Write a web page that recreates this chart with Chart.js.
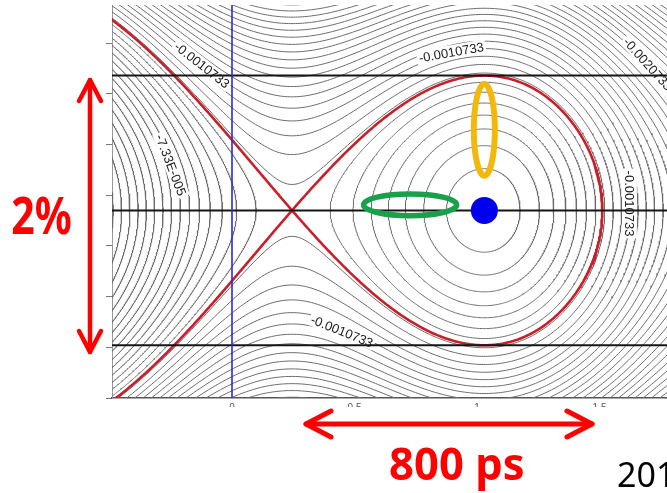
<!DOCTYPE html>
<html><head><meta charset="utf-8">
<script src="https://cdn.jsdelivr.net/npm/chart.js@4/dist/chart.umd.min.js"></script>
<style>html,body{margin:0;padding:0;background:#fff;overflow:hidden;width:667px;height:493px}canvas{display:block}</style>
</head><body><canvas id="c" width="700" height="493"></canvas>
<script>
// ---------- values ----------
const xTicks = [0, 0.5, 1, 1.5];
const yTicks = [0, 1, 2, 3, 4, 5, 6, 7];
const stablePoint = [1.03, 3.70];      // blue dot, bucket centre
const unstablePoint = [0.245, 3.70];   // crossing of the red separatrix
const bucketHalfHeight = [2.66];
const syncPhase = [0.35];              // sets bucket asymmetry (right edge ~1.51)
const contourLevels = [-1.02, -0.88, -0.74, -0.60, -0.46, -0.32, -0.18, -0.04,
  0.10, 0.24, 0.38, 0.52, 0.66, 0.80, 0.94, 1.08, 1.22, 1.36, 1.50, 1.64, 1.78,
  1.92, 2.06, 2.20, 2.34, 2.48, 2.62, 2.76, 2.90, 3.04, 3.18, 3.32, 3.46, 3.60,
  3.74, 3.88, 4.02, 4.16, 4.30, 4.44, 4.58, 4.72, 4.86, 5.00];
const bucketLines = [6.36, 3.70, 1.04];
const markerLineX = [0];
const greenEllipse = [0.727, 3.81, 0.19, 0.215];   // cx, cy, rx, ry
const yellowEllipse = [1.03, 5.29, 0.043, 0.905];
const labelTexts = ['-0.0010733', '-7.33E-005', '-0.0010733', '-0.0020733', '-0.0010733', '-0.0010733'];
const labelX = [-0.122, -0.249, 0.895, 1.698, 1.624, 0.449];
const labelY = [6.568, 4.596, 6.82, 6.588, 3.836, 1.321];
const labelAngle = [38, 69, -10, 48, 90, 22];

// pixel calibration of the axes (x = 0 at px 232, 245 px per unit; y = 0 at px 398, 50.7 px per unit)
const X0_PX = 232, X_UNIT = 245, Y0_PX = 398, Y_UNIT = 50.7;
const X_MIN = -0.52, X_MAX = 1.95, Y_MIN = 0, Y_MAX = 7.95;

// ---------- contour geometry of the bucket Hamiltonian ----------
const al = syncPhase[0];
const xs = stablePoint[0], yc = stablePoint[1], xu = unstablePoint[0], hh = bucketHalfHeight[0];
const kk = (Math.PI - 2 * al) / (xs - xu);
const Wpsi = p => -Math.cos(p) - p * Math.sin(al);
const Wmin = Wpsi(al);
const D = Wpsi(Math.PI - al) - Wmin;
const w = x => Wpsi(al + kk * (xs - x)) - Wmin;

function bisect(x0, x1, h) {
  let f0 = h - w(x0);
  for (let i = 0; i < 60; i++) {
    const m = (x0 + x1) / 2, fm = h - w(m);
    if ((fm >= 0) === (f0 >= 0)) { x0 = m; f0 = fm; } else x1 = m;
  }
  return (x0 + x1) / 2;
}
function intervals(h) {
  const N = 2400, out = [];
  let prevX = X_MIN, inside = (h - w(X_MIN)) >= 0, start = inside ? { x: X_MIN, root: false } : null;
  for (let i = 1; i <= N; i++) {
    const x = X_MIN + (X_MAX - X_MIN) * i / N, f = h - w(x);
    if (inside && f < 0) { out.push([start, { x: bisect(prevX, x, h), root: true }]); inside = false; }
    else if (!inside && f >= 0) { start = { x: bisect(prevX, x, h), root: true }; inside = true; }
    prevX = x;
  }
  if (inside) out.push([start, { x: X_MAX, root: false }]);
  return out;
}
function branch(h, a0, b0, ra, rb, sign, n) {
  const pts = [];
  for (let i = 0; i <= n; i++) {
    const t = i / n;
    let g;
    if (ra && rb) g = (1 - Math.cos(Math.PI * t)) / 2;
    else if (ra) g = 1 - Math.cos(Math.PI * t / 2);
    else if (rb) g = Math.sin(Math.PI * t / 2);
    else g = t;
    const x = a0 + (b0 - a0) * g;
    const u = Math.sqrt(Math.max(0, (h - w(x)) / D));
    pts.push({ x: x, y: yc + sign * hh * u });
  }
  return pts;
}
function contourPaths(h) {
  const paths = [];
  for (const [s, e] of intervals(h)) {
    const up = branch(h, s.x, e.x, s.root, e.root, 1, 260);
    const lo = branch(h, s.x, e.x, s.root, e.root, -1, 260).reverse();
    paths.push(up.concat(lo));
  }
  return paths;
}
function separatrix() {
  const h = D;
  const r = bisect(xs, X_MAX, h);
  const up = branch(h, X_MIN, xu, false, false, 1, 200).concat(branch(h, xu, r, false, true, 1, 260));
  const lo = branch(h, X_MIN, xu, false, false, -1, 200).concat(branch(h, xu, r, false, true, -1, 260)).reverse();
  return up.concat(lo);
}

// ---------- datasets ----------
const lineDs = (data, color, width) => ({ data, showLine: true, pointRadius: 0, borderColor: color, borderWidth: width, fill: false, clip: 0, tension: 0 });
const datasets = [];
datasets.push({ data: [{ x: stablePoint[0], y: stablePoint[1] }], showLine: false, pointRadius: 13.5, pointBackgroundColor: '#0000ee', pointBorderWidth: 0, clip: false });
datasets.push(lineDs(markerLineX.map(v => [{ x: v, y: Y_MIN }, { x: v, y: Y_MAX }]).flat(), '#2b2bcc', 1.6));
bucketLines.forEach(v => datasets.push(lineDs([{ x: X_MIN, y: v }, { x: X_MAX, y: v }], '#151515', 2)));
datasets.push(lineDs(separatrix(), '#c8202a', 2.6));
const firstContour = datasets.length;
contourLevels.forEach(h => contourPaths(h).forEach(p => datasets.push(lineDs(p, '#6c6c6c', 1))));

// ---------- drawing helpers ----------
function drawEllipse(ctx, ch, e, color, lw) {
  const xS = ch.scales.x, yS = ch.scales.y;
  const cx = xS.getPixelForValue(e[0]), cy = yS.getPixelForValue(e[1]);
  const rx = Math.abs(xS.getPixelForValue(e[0] + e[2]) - cx), ry = Math.abs(yS.getPixelForValue(e[1] + e[3]) - cy);
  ctx.save(); ctx.beginPath(); ctx.ellipse(cx, cy, rx, ry, 0, 0, Math.PI * 2);
  ctx.strokeStyle = color; ctx.lineWidth = lw; ctx.stroke(); ctx.restore();
}
function fitText(ctx, text, font, color, left, baseline, inkW) {
  ctx.save(); ctx.font = font; ctx.fillStyle = color; ctx.textAlign = 'left'; ctx.textBaseline = 'alphabetic';
  const m = ctx.measureText(text);
  const nat = m.actualBoundingBoxLeft + m.actualBoundingBoxRight;
  const sx = inkW ? inkW / nat : 1;
  ctx.translate(left, baseline); ctx.scale(sx, 1);
  ctx.fillText(text, m.actualBoundingBoxLeft, 0); ctx.restore();
}
function arrow(ctx, x1, y1, x2, y2, head, spread, lw) {
  ctx.save(); ctx.strokeStyle = '#ff0000'; ctx.lineWidth = lw; ctx.lineCap = 'round'; ctx.lineJoin = 'round';
  ctx.beginPath(); ctx.moveTo(x1, y1); ctx.lineTo(x2, y2); ctx.stroke();
  const ang = Math.atan2(y2 - y1, x2 - x1);
  const tips = [[x1, y1, ang], [x2, y2, ang + Math.PI]];
  for (const [tx, ty, a] of tips) {
    const ux = Math.cos(a), uy = Math.sin(a);
    ctx.beginPath();
    ctx.moveTo(tx + ux * head - uy * spread, ty + uy * head + ux * spread);
    ctx.lineTo(tx, ty);
    ctx.lineTo(tx + ux * head + uy * spread, ty + uy * head - ux * spread);
    ctx.stroke();
  }
  ctx.restore();
}

const overlay = {
  id: 'overlay',
  afterDatasetDraw(ch, args) {
    if (args.index !== firstContour) return;
    const ctx = ch.ctx, a = ch.chartArea;
    ctx.save(); ctx.beginPath(); ctx.rect(a.left, a.top, a.right - a.left, a.bottom - a.top); ctx.clip();
    ctx.font = '13px "Liberation Sans", Arial, sans-serif'; ctx.textAlign = 'center'; ctx.textBaseline = 'middle';
    labelTexts.forEach((t, i) => {
      const px = ch.scales.x.getPixelForValue(labelX[i]), py = ch.scales.y.getPixelForValue(labelY[i]);
      ctx.save(); ctx.translate(px, py); ctx.rotate(labelAngle[i] * Math.PI / 180);
      const tw = ctx.measureText(t).width;
      ctx.fillStyle = '#ffffff'; ctx.fillRect(-tw / 2 - 2, -7, tw + 4, 14);
      ctx.fillStyle = '#1a1a1a'; ctx.fillText(t, 0, 1);
      ctx.restore();
    });
    ctx.restore();
  },
  afterDatasetsDraw(ch) {
    const ctx = ch.ctx;
    drawEllipse(ctx, ch, greenEllipse, '#18a04a', 5.5);
    drawEllipse(ctx, ch, yellowEllipse, '#f3b80c', 6);
  },
  afterDraw(ch) {
    const ctx = ch.ctx;
    ctx.save(); ctx.fillStyle = '#ffffff'; ctx.fillRect(100, 407, 620, 100); ctx.restore();
    arrow(ctx, 90, 80, 90, 352, 21, 11, 4.5);
    arrow(ctx, 306, 424, 592, 424, 25, 13, 5);
    fitText(ctx, '2%', 'bold 52px "Noto Sans", sans-serif', '#ff0000', 12, 234, 59);
    fitText(ctx, '800 ps', 'bold 45px "Noto Sans", sans-serif', '#ff0000', 390, 480, 133);
    fitText(ctx, '201', '34px "Noto Sans", sans-serif', '#000000', 618, 487, 0);
  }
};

const chart = new Chart(document.getElementById('c'), {
  type: 'scatter',
  data: { datasets },
  options: {
    responsive: false, animation: false, devicePixelRatio: 1,
    events: [],
    layout: { autoPadding: false, padding: { left: 106, top: 5, right: 0, bottom: 71 } },
    plugins: { legend: { display: false }, tooltip: { enabled: false } },
    scales: {
      x: {
        type: 'linear', min: -0.49, max: 1.91,
        afterBuildTicks: s => { s.ticks = xTicks.map(v => ({ value: v })); },
        afterFit: s => { s.height = 24; s.paddingLeft = 0; s.paddingRight = 0; },
        ticks: { color: '#555', font: { size: 10, family: '"Liberation Sans", Arial' }, padding: 4, maxRotation: 0, callback: v => String(v) },
        grid: { drawOnChartArea: false, drawTicks: false },
        border: { display: true, color: '#555', width: 1.5 }
      },
      y: {
        type: 'linear', min: 0, max: 7.75,
        afterBuildTicks: s => { s.ticks = yTicks.map(v => ({ value: v })); },
        afterFit: s => { s.width = 6; s.paddingTop = 0; s.paddingBottom = 0; },
        ticks: { display: false },
        grid: { drawOnChartArea: false, drawTicks: true, tickLength: 6, color: '#777' },
        border: { display: true, color: '#999', width: 1 }
      }
    }
  },
  plugins: [overlay]
});
// calibrate the scale ranges to the chart area actually laid out
const ca = chart.chartArea;
chart.options.scales.x.min = (ca.left - X0_PX) / X_UNIT;
chart.options.scales.x.max = (ca.right - X0_PX) / X_UNIT;
chart.options.scales.y.min = (Y0_PX - ca.bottom) / Y_UNIT;
chart.options.scales.y.max = (Y0_PX - ca.top) / Y_UNIT;
chart.update('none');
</script>
</body></html>
